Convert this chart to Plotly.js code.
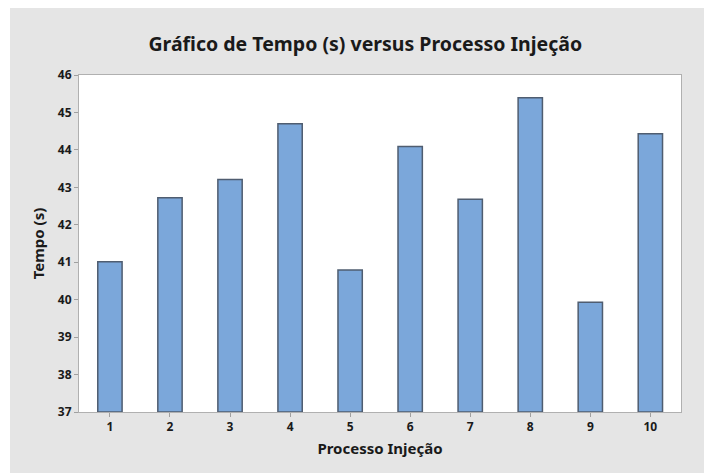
<!DOCTYPE html>
<html>
<head>
<meta charset="utf-8">
<script src="https://cdn.plot.ly/plotly-3.0.1.min.js"></script>
<style>
html,body{margin:0;padding:0;background:#ffffff;}
#chart{position:absolute;left:10px;top:8px;width:694px;height:465px;}
</style>
</head>
<body>
<div id="chart"></div>
<script>
const categories = [1, 2, 3, 4, 5, 6, 7, 8, 9, 10];
const tempo = [41.01, 42.72, 43.21, 44.70, 40.79, 44.09, 42.68, 45.39, 39.93, 44.43];
const yTicks = [37, 38, 39, 40, 41, 42, 43, 44, 45, 46];
const yBase = 37;

const font = "'Noto Sans', 'Open Sans', sans-serif";

const trace = {
  type: 'bar',
  x: categories,
  y: tempo.map(v => v - yBase),
  base: yBase,
  width: 0.405,
  marker: {color: '#7ba7da', line: {color: '#4f5d70', width: 1.5}},
  hoverinfo: 'x+y'
};

const layout = {
  width: 694, height: 465,
  paper_bgcolor: '#e5e5e5',
  plot_bgcolor: '#ffffff',
  margin: {l: 69, r: 23, t: 66.5, b: 61},
  showlegend: false,
  title: {text: '<b>Gráfico de Tempo (s) versus Processo Injeção</b>', font: {family: font, size: 19.5, color: '#1a1a1a'}, x: 0.512, xanchor: 'center', y: 0.922, yanchor: 'middle'},
  xaxis: {
    range: [0.485, 10.51],
    tickvals: categories,
    ticktext: categories.map(String),
    ticks: 'outside', ticklen: 4, tickcolor: '#a0a0a0', tickwidth: 1,
    showline: true, linecolor: '#b0b0b0', linewidth: 1, mirror: true,
    showgrid: false, zeroline: false,
    tickfont: {family: font, size: 12, color: '#1a1a1a', weight: 'bold'},
    title: {text: '<b>Processo Injeção</b>', font: {family: font, size: 15, color: '#1a1a1a'}, standoff: 9}
  },
  yaxis: {
    range: [37, 46],
    tickvals: yTicks,
    ticktext: yTicks.map(String),
    ticks: 'outside', ticklen: 4, tickcolor: '#a0a0a0', tickwidth: 1,
    showline: true, linecolor: '#b0b0b0', linewidth: 1, mirror: true,
    showgrid: false, zeroline: false,
    tickfont: {family: font, size: 12, color: '#1a1a1a', weight: 'bold'},
    title: {text: '<b>Tempo (s)</b>', font: {family: font, size: 15, color: '#1a1a1a'}, standoff: 9}
  }
};

Plotly.newPlot('chart', [trace], layout, {displayModeBar: false, staticPlot: true});
</script>
</body>
</html>
